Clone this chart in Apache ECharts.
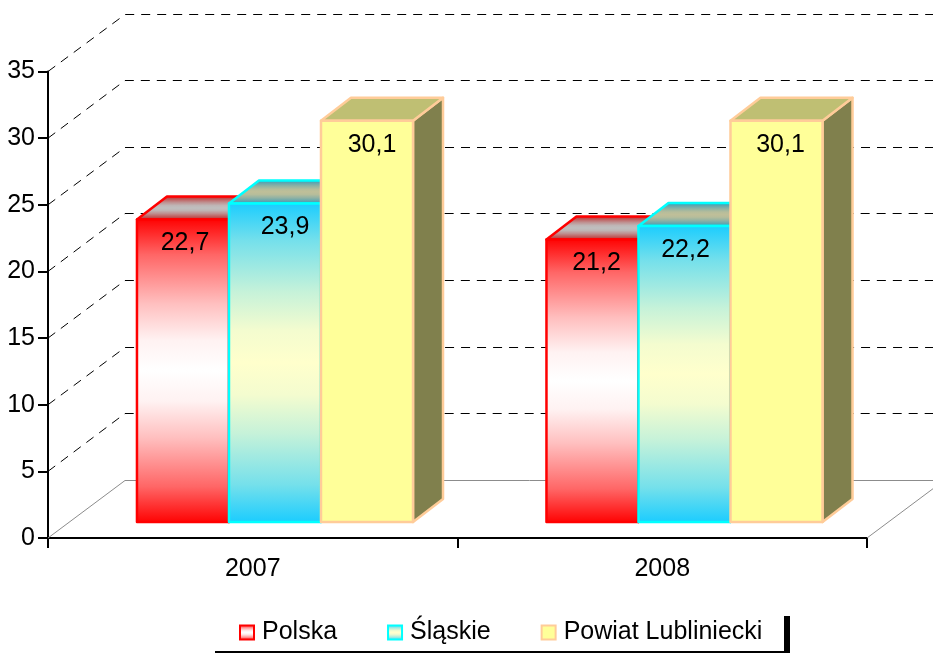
<!DOCTYPE html>
<html>
<head>
<meta charset="utf-8">
<title>Wykres</title>
<script src="https://cdn.jsdelivr.net/npm/echarts@6/dist/echarts.min.js"></script>
<style>
  html, body { margin: 0; padding: 0; background: #fff; }
  #main { width: 933px; height: 653px; }
</style>
</head>
<body>
<div id="main"></div>
<script>
// dane
const categories = ['2007', '2008'];
const polska = [22.7, 21.2];
const slaskie = [23.9, 22.2];
const powiat = [30.1, 30.1];
const yTicks = [0, 5, 10, 15, 20, 25, 30, 35];

// "glebokosc" wykresu i slupkow w pikselach
const WALL_DX = 77, WALL_DY = 57.5;
const BAR_DX = 30, BAR_DY = 23;
const BAR_LIFT = 16;
const BAR_WIDTH = 0.2247;    // czesc szerokosci kategorii
const GROUP_SHIFT = 0.0543;  // przesuniecie grupy w prawo
const FONT = '"Liberation Sans", Arial, sans-serif';

// miekkie przejscie kolor -> srodek -> kolor
const mix = (a, b, t) => echarts.color.lerp(t, [a, b]);
const grad = (a, b) => new echarts.graphic.LinearGradient(0, 0, 0, 1, [
    [0, 0], [0.12, 0.4], [0.28, 0.75], [0.4, 0.95], [0.5, 1],
    [0.6, 0.95], [0.72, 0.75], [0.88, 0.4], [1, 0]
].map(([offset, t]) => ({ offset: offset, color: mix(a, b, t) })));

const seriesStyle = [
    { border: '#ff0000', front: grad('#ff0000', '#ffffff'), top: grad('#bf0000', '#bfbfbf'), side: grad('#800000', '#808080'), nudge: [2, 4] },
    { border: '#00ffff', front: grad('#19ccff', '#ffffcc'), top: grad('#1390bf', '#bfbf99'), side: grad('#0c6680', '#808066'), nudge: [10, 1] },
    { border: '#ffcc99', front: '#ffff99', top: '#bfbf73', side: '#80804d', nudge: [5, 4] }
];

// tylne sciany i linie siatki
const renderWall = (params, api) => {
    const v = api.value(0);
    const band = api.size([1, 0])[0];
    const left = api.coord([0, v]);
    const right = api.coord([categories.length - 1, v]);
    const x0 = left[0] - band / 2, x1 = right[0] + band / 2, y = left[1];
    const backY = Math.floor(y - WALL_DY) + 0.5;
    const floor = v === 0;
    const style = floor
        ? { fill: 'none', stroke: '#8c8c8c', lineWidth: 1 }
        : { fill: 'none', stroke: '#000', lineWidth: 1, lineDash: [9, 7] };
    const children = [{
        type: 'polyline',
        shape: { points: [[x0, y], [x0 + WALL_DX, backY], [x1 + WALL_DX, backY]] },
        style: style
    }];
    if (floor) {
        children.push({
            type: 'line',
            shape: { x1: x1, y1: y, x2: x1 + WALL_DX, y2: backY },
            style: style
        });
    }
    return { type: 'group', children: children };
};

// slupek 3D - pozycje tylko z osi
const renderBar = (idx) => (params, api) => {
    const cat = api.value(0), val = api.value(1);
    const band = api.size([1, 0])[0];
    const w = band * BAR_WIDTH;
    const center = api.coord([cat, 0])[0] + band * GROUP_SHIFT;
    const x0 = center + (idx - 1.5) * w;
    const x1 = x0 + w;
    const yBase = api.coord([cat, 0])[1] - BAR_LIFT;
    const yTop = api.coord([cat, val])[1] - BAR_LIFT;
    const s = seriesStyle[idx];
    const line = { stroke: s.border, lineWidth: 2.5, lineJoin: 'round' };
    return {
        type: 'group',
        children: [
            {
                type: 'polygon',
                shape: { points: [[x1, yTop], [x1 + BAR_DX, yTop - BAR_DY], [x1 + BAR_DX, yBase - BAR_DY], [x1, yBase]] },
                style: Object.assign({ fill: s.side }, line)
            },
            {
                type: 'polygon',
                shape: { points: [[x0, yTop], [x0 + BAR_DX, yTop - BAR_DY], [x1 + BAR_DX, yTop - BAR_DY], [x1, yTop]] },
                style: Object.assign({ fill: s.top }, line)
            },
            {
                type: 'rect',
                shape: { x: x0, y: yTop, width: w, height: yBase - yTop },
                style: Object.assign({ fill: s.front }, line)
            },
            {
                type: 'text',
                style: {
                    x: center + (idx - 1) * w + s.nudge[cat],
                    y: yTop + 24,
                    text: String(val).replace('.', ','),
                    fill: '#000',
                    font: '25px ' + FONT,
                    align: 'center',
                    verticalAlign: 'middle'
                }
            }
        ]
    };
};

const barSeries = (name, values, idx) => ({
    name: name,
    type: 'custom',
    renderItem: renderBar(idx),
    data: values.map((v, i) => [i, v]),
    encode: { x: 0, y: 1 },
    z: 3 + idx,
    itemStyle: { color: seriesStyle[idx].front, borderColor: seriesStyle[idx].border, borderWidth: 2.5 }
});

const myChart = echarts.init(document.getElementById('main'), null, { renderer: 'canvas' });
const option = {
    animation: false,
    backgroundColor: '#fff',
    grid: { left: 48, right: 66, top: 71.5, bottom: 115 },
    xAxis: {
        type: 'category',
        data: categories,
        boundaryGap: true,
        axisLine: { lineStyle: { color: '#000', width: 2 } },
        axisTick: { show: true, length: 10, lineStyle: { color: '#000', width: 2 } },
        axisLabel: { color: '#000', fontFamily: FONT, fontSize: 25, margin: 19 }
    },
    yAxis: {
        type: 'value',
        min: 0,
        max: 35,
        interval: 5,
        splitLine: { show: false },
        axisLine: { show: true, lineStyle: { color: '#000', width: 2 } },
        axisTick: { show: true, length: 10, lineStyle: { color: '#000', width: 2 } },
        axisLabel: { color: '#000', fontFamily: FONT, fontSize: 25, margin: 13, padding: [6, 0, 0, 0] }
    },
    legend: {
        data: ['Polska', 'Śląskie', 'Powiat Lubliniecki'],
        left: 234,
        top: 620,
        padding: [0, 0, 0, 5],
        itemWidth: 14,
        itemHeight: 14,
        itemGap: 50,
        icon: 'rect',
        selectedMode: false,
        textStyle: { color: '#000', fontFamily: FONT, fontSize: 25, padding: [0, 0, 0, 3] }
    },
    graphic: [
        { type: 'line', shape: { x1: 215, y1: 652, x2: 790, y2: 652 }, style: { stroke: '#000', lineWidth: 2 } },
        { type: 'rect', shape: { x: 784, y: 616, width: 6, height: 37 }, style: { fill: '#000' } }
    ],
    series: [
        {
            type: 'custom',
            renderItem: renderWall,
            data: yTicks.map((v) => [v]),
            encode: { y: 0 },
            z: 1,
            silent: true
        },
        barSeries('Polska', polska, 0),
        barSeries('Śląskie', slaskie, 1),
        barSeries('Powiat Lubliniecki', powiat, 2)
    ]
};
myChart.setOption(option);
</script>
</body>
</html>
